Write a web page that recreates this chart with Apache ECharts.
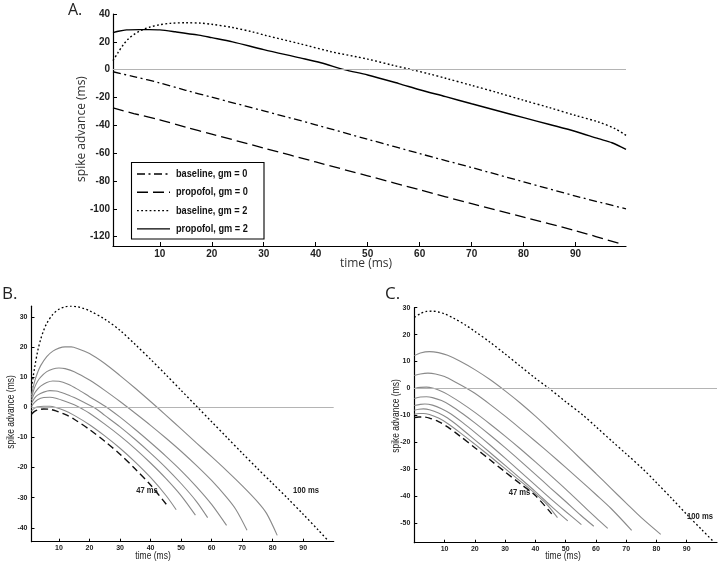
<!DOCTYPE html>
<html><head><meta charset="utf-8">
<script src="https://cdn.jsdelivr.net/npm/echarts@6/dist/echarts.min.js"></script>
<style>html,body{margin:0;padding:0;background:#fff}#c{width:720px;height:566px}</style>
</head><body><div id="c"></div>
<script>
// ---------- Panel A ----------
const aNames = ['baseline, gm = 0', 'propofol, gm = 0', 'baseline, gm = 2', 'propofol, gm = 2'];
const aBaseline0 = [[1,-1.5],[5,-5],[10,-9.5],[15,-14.8],[20,-19.8],[30,-29.6],[40,-39.6],[50,-50],[60,-60.3],[70,-70.3],[80,-80.6],[90,-90.8],[99.7,-100]];
const aPropofol0 = [[1,-27.5],[5,-31.5],[10,-36],[15,-41.3],[20,-46.3],[30,-56.3],[40,-66.3],[50,-76.3],[60,-86.3],[70,-96.3],[80,-106],[90,-115.7],[99,-125.5]];
const aBaseline2 = [[1,6.5],[2,12.5],[3,18],[4,22.3],[5,25.2],[6,27.5],[7,29.2],[8,30.5],[10,32.3],[12,33.3],[15,33.7],[18,33.4],[20,32.6],[24,30.3],[28,27],[30.5,24.5],[37,18.6],[43,12.9],[50,7.6],[55,3],[58.5,0],[62,-3.2],[65,-6.2],[70,-11.3],[75,-16.5],[80,-22],[85,-27.3],[90,-32.9],[94.4,-37.6],[97.6,-42.4],[99.7,-47.2]];
const aPropofol2 = [[1,26.6],[2,27.6],[3.6,28.6],[6,28.8],[8,28.8],[10,28.6],[13,27.2],[17.5,24.8],[20,23],[24,20],[30,14.4],[37,8.5],[41,5],[45.5,0],[50,-3.8],[56,-10],[60,-14.4],[65,-19.4],[70,-24.5],[75,-29.5],[80,-34.5],[85,-39.4],[90,-44.4],[94.4,-49.6],[97,-52.5],[99.7,-57.3]];
const aYTicks = [-120,-100,-80,-60,-40,-20,0,20,40];
const aXTicks = [10,20,30,40,50,60,70,80,90];

// ---------- Panel B ----------
const bDotted100 = [[1,6.5],[2,13],[3,18.5],[4,22.5],[5,25.5],[6,27.8],[8,30.8],[10,32.5],[12,33.3],[14,33.5],[16,33.3],[18,32.8],[20,32],[25,29.2],[30,25.5],[35,20.8],[40,15.9],[45,10.8],[50,5.6],[55,0.4],[60,-4.8],[65,-10],[70,-15.2],[75,-20.3],[80,-25.3],[85,-30.3],[90,-35.5],[95,-40.8],[98.5,-44.6]];
const bGray1 = [[1,4],[2,8.5],[3,11.5],[4,13.8],[6,16.8],[8,18.6],[10,19.6],[12,20],[14,20],[16,19.5],[20,17.8],[25,14.5],[30,10.5],[35,6.3],[40,1.9],[45,-2.6],[50,-7.2],[55,-11.8],[60,-16.4],[65,-21.1],[70,-26],[75,-31.3],[78,-35.2],[81.5,-42.5]];
const bGray2 = [[1,3.2],[2,6.5],[3,8.6],[4,10],[6,11.8],[8,12.7],[10,13],[12,12.8],[15,11.8],[20,9],[25,5.6],[30,1.9],[35,-2],[40,-6],[45,-10.2],[50,-14.6],[55,-19.3],[60,-24.3],[65,-30],[68,-34],[71.6,-40.8]];
const bGray3 = [[1,2.3],[2,4.6],[3,6],[4,7],[6,8.2],[8,8.7],[10,8.6],[13,7.6],[16,6],[20,3.5],[25,0.4],[30,-3.3],[35,-7.4],[40,-11.7],[45,-16.2],[50,-21],[55,-26.3],[60,-32.2],[64.9,-39.2]];
const bGray4 = [[1,1.3],[2,3],[3,4],[5,5],[7,5.5],[9,5.4],[12,4.5],[15,3.2],[18,1.7],[22,-0.4],[25,-2.7],[30,-6.5],[35,-10.7],[40,-15.2],[45,-20],[50,-25.3],[55,-31.2],[58.7,-36.6]];
const bGray5 = [[1,0.3],[2,1.6],[3,2.5],[5,3.2],[7,3.3],[9,3],[12,2],[15,0.8],[18,-0.8],[20,-2],[25,-5.6],[30,-9.5],[35,-13.8],[40,-18.5],[45,-23.6],[50,-29.3],[54.7,-35.8]];
const bGray6 = [[1,-1.2],[2,-0.3],[3,0.1],[5,0.3],[7,0.3],[9,-0.1],[12,-1.2],[15,-2.7],[20,-5.8],[25,-9.5],[30,-13.6],[35,-18.2],[40,-23.3],[45,-29.2],[48.4,-34]];
const bDashed47 = [[1,-2.3],[2,-1.4],[3,-0.9],[5,-0.6],[7,-0.7],[9,-1.2],[12,-2.4],[15,-4],[20,-7.4],[25,-11.3],[30,-15.6],[35,-20.5],[40,-25.8],[45.4,-32.5]];
const bYTicks = [-40,-30,-20,-10,0,10,20,30];
const bXTicks = [10,20,30,40,50,60,70,80,90];

// ---------- Panel C ----------
const cDotted100 = [[0,26.4],[2,27.8],[4,28.6],[6,28.7],[8,28.4],[10,27.7],[13,26.1],[17,23.5],[20,21.2],[25,17.2],[30,12.8],[35,8.3],[40,3.8],[44.5,0],[50,-4.9],[55.8,-10],[60,-14.2],[65.7,-20],[70,-24.3],[75.6,-30],[80,-35],[85,-40.8],[90,-46.8],[95,-52.5],[99.2,-57.3]];
const cGray1 = [[0,12.2],[2,13.2],[5,13.7],[8,13.3],[11,12.3],[15,10.2],[20,7],[25,3.3],[30,-0.9],[35,-5.4],[40,-10.3],[45,-15.5],[50,-20.8],[55,-26.2],[60,-31.6],[65,-37.1],[70,-42.6],[75,-48],[81.4,-54.2]];
const cGray2 = [[0,4.8],[2,5.4],[4.5,5.7],[7,5.4],[10,4.4],[13.5,2.4],[17.4,0],[20,-1.8],[25,-5.9],[30,-10.3],[35,-14.9],[40,-19.6],[45,-24.4],[50,-29.3],[55,-34.3],[60,-39.4],[65,-44.6],[71.8,-52.7]];
const cGray3 = [[0,0],[2,0.4],[4,0.5],[6,0.2],[8,-0.6],[11,-2.2],[15,-5],[20,-8.9],[25,-13.2],[30,-17.7],[35,-22.4],[40,-27.3],[45,-32.3],[50,-37.4],[55,-42.7],[60,-48],[63.9,-52]];
const cGray4 = [[0,-3.7],[2,-3.2],[4,-3.1],[6,-3.4],[9,-4.5],[12,-6.3],[16,-9.4],[20,-12.8],[25,-17.3],[30,-22],[35,-26.9],[40,-31.9],[45,-37],[50,-42],[55,-47.1],[59.3,-51.2]];
const cGray5 = [[0,-6.3],[2,-5.9],[3.5,-5.8],[6,-6.2],[9,-7.5],[12,-9.4],[16,-12.7],[20,-16.3],[25,-21],[30,-25.9],[35,-30.9],[40,-35.9],[45,-40.9],[50,-45.7],[55.2,-50.6]];
const cGray6 = [[0,-8.1],[1.5,-7.7],[3,-7.6],[5,-7.9],[8,-9.1],[11,-11],[15,-14.4],[20,-19.1],[25,-23.8],[30,-28.6],[35,-33.4],[40,-38.3],[45,-43.5],[50.7,-49.2]];
const cGray7 = [[0,-9.6],[1.5,-9.3],[3,-9.3],[5,-9.7],[8,-11],[11,-13],[15,-16.3],[20,-20.7],[25,-25.2],[30,-29.8],[35,-34.4],[40,-39.1],[44,-43.3],[47.3,-48]];
const cDashed47 = [[0,-10.8],[1.5,-10.6],[3,-10.6],[5,-11],[8,-12.3],[11,-14.3],[15,-17.6],[20,-22],[25,-26.5],[30,-31],[35,-35.4],[40,-39.8],[45.4,-46.6]];
const cYTicks = [-50,-40,-30,-20,-10,0,10,20,30];
const cXTicks = [10,20,30,40,50,60,70,80,90];

const TICKFONT = "'Liberation Sans',Arial,sans-serif";
const SANS = "'Open Sans','Noto Sans',sans-serif";

function xAx(gi, min, max, ticks, fs, tl) {
  return {type:'value', gridIndex:gi, min:min, max:max,
    axisLine:{show:true, onZero:false, lineStyle:{color:'#000', width:1.2}},
    axisTick:{show:true, inside:true, length:tl, customValues:ticks, lineStyle:{color:'#000'}},
    axisLabel:{show:true, customValues:ticks, margin:3, fontFamily:TICKFONT, fontSize:fs, fontWeight:'bold', color:'#222'},
    splitLine:{show:false}};
}
function yAx(gi, min, max, ticks, fs, tl, mg) {
  return {type:'value', gridIndex:gi, min:min, max:max,
    axisLine:{show:true, onZero:false, lineStyle:{color:'#000', width:1.2}},
    axisTick:{show:true, inside:true, length:tl, customValues:ticks, lineStyle:{color:'#000'}},
    axisLabel:{show:true, customValues:ticks, margin:mg, fontFamily:TICKFONT, fontSize:fs, fontWeight:'bold', color:'#222'},
    splitLine:{show:false}};
}
function ln(name, gi, data, color, width, type, z) {
  return {name:name, type:'line', xAxisIndex:gi, yAxisIndex:gi, data:data, showSymbol:false, symbol:'none',
    smooth:0.3, silent:true, z:z||2, animation:false, itemStyle:{color:color},
    lineStyle:{color:color, width:width, type:type}};
}
function zeroLine(gi) {
  return {name:'zero'+gi, type:'line', xAxisIndex:gi, yAxisIndex:gi, data:[], silent:true, symbol:'none',
    markLine:{silent:true, symbol:'none', animation:false, label:{show:false},
      lineStyle:{color:'#b4b4b4', width:1, type:'solid'}, data:[{yAxis:0}]}, z:1};
}

const DASHDOT = [8,3.5,2,3.5], LONGDASH = [11,5], DOT = [1.8,2.4], DASH47 = [7,4];
const GRAY = '#8a8a8a';
const aStyles = [DASHDOT, LONGDASH, DOT, null];

const series = [
  zeroLine(0),
  ln(aNames[0], 0, aBaseline0, '#000', 1.3, DASHDOT),
  ln(aNames[1], 0, aPropofol0, '#000', 1.3, LONGDASH),
  ln(aNames[2], 0, aBaseline2, '#000', 1.4, DOT),
  ln(aNames[3], 0, aPropofol2, '#000', 1.4, 'solid'),
  zeroLine(1),
  ln('B 100 ms', 1, bDotted100, '#000', 1.3, DOT, 3),
  ln('B g1', 1, bGray1, GRAY, 1.1, 'solid'),
  ln('B g2', 1, bGray2, GRAY, 1.1, 'solid'),
  ln('B g3', 1, bGray3, GRAY, 1.1, 'solid'),
  ln('B g4', 1, bGray4, GRAY, 1.1, 'solid'),
  ln('B g5', 1, bGray5, GRAY, 1.1, 'solid'),
  ln('B g6', 1, bGray6, GRAY, 1.1, 'solid'),
  ln('B 47 ms', 1, bDashed47, '#111', 1.4, DASH47, 3),
  zeroLine(2),
  ln('C 100 ms', 2, cDotted100, '#000', 1.3, DOT, 3),
  ln('C g1', 2, cGray1, GRAY, 1.1, 'solid'),
  ln('C g2', 2, cGray2, GRAY, 1.1, 'solid'),
  ln('C g3', 2, cGray3, GRAY, 1.1, 'solid'),
  ln('C g4', 2, cGray4, GRAY, 1.1, 'solid'),
  ln('C g5', 2, cGray5, GRAY, 1.1, 'solid'),
  ln('C g6', 2, cGray6, GRAY, 1.1, 'solid'),
  ln('C g7', 2, cGray7, GRAY, 1.1, 'solid'),
  ln('C 47 ms', 2, cDashed47, '#111', 1.4, DASH47, 3)
];

function txt(text, x, y, fs, font, opts) {
  opts = opts || {};
  return {type:'text', x:x, y:y, rotation:opts.rot||0, scaleX:opts.sx||1, silent:true, z:100,
    style:{text:text, fontSize:fs, fontFamily:font, fill:opts.fill||'#222',
      textAlign:opts.align||'center', textVerticalAlign:'middle', fontWeight:opts.weight||'normal'}};
}

// manual legend (box, line samples, labels)
const legendGraphics = [{type:'rect', silent:true, z:90,
  shape:{x:131.5, y:162.5, width:132.5, height:76.5},
  style:{fill:'#fff', stroke:'#000', lineWidth:1.1}}];
aNames.forEach(function (n, i) {
  const yy = 174 + i * 18.3;
  legendGraphics.push({type:'line', silent:true, z:95,
    shape:{x1:137, y1:yy, x2:170, y2:yy},
    style:{stroke:'#000', lineWidth:1.4, lineDash:aStyles[i] || null}});
  legendGraphics.push(txt(n, 176, yy, 11.5, TICKFONT, {align:'left', sx:0.8, fill:'#111', weight:'bold'}));
});

const chart = echarts.init(document.getElementById('c'), null, {renderer:'canvas'});
chart.setOption({
  animation:false,
  backgroundColor:'#fff',
  grid:[
    {left:113, top:14, right:94, bottom:320},
    {left:31.5, top:306.2, right:386.3, bottom:24.3},
    {left:414.3, top:307.7, right:3, bottom:23.3}
  ],
  xAxis:[
    xAx(0, 1, 99.7, aXTicks, 10, 4),
    xAx(1, 1, 100, bXTicks, 7, 3),
    xAx(2, 0, 100, cXTicks, 7, 3)
  ],
  yAxis:[
    yAx(0, -126.7, 40, aYTicks, 10, 4, 3),
    yAx(1, -44.6, 33.5, bYTicks, 7, 3, 4),
    yAx(2, -57.3, 30, cYTicks, 7, 3, 4)
  ],
  series:series,
  graphic:legendGraphics.concat([
    txt('A.', 68, 10, 16, SANS, {align:'left'}),
    txt('B.', 2, 294, 17, SANS, {align:'left'}),
    txt('C.', 385, 294, 17, SANS, {align:'left'}),
    txt('spike advance (ms)', 82, 129, 12, SANS, {rot:Math.PI/2, fill:'#333'}),
    txt('time (ms)', 366, 264, 12, SANS, {fill:'#333'}),
    txt('spike advance (ms)', 11.7, 412, 10, TICKFONT, {rot:Math.PI/2, sx:0.85}),
    txt('time (ms)', 153, 556, 10, TICKFONT, {sx:0.85}),
    txt('spike advance (ms)', 396.7, 416, 10, TICKFONT, {rot:Math.PI/2, sx:0.85}),
    txt('time (ms)', 563, 556, 10, TICKFONT, {sx:0.85}),
    txt('47 ms', 147, 491, 9, TICKFONT, {sx:0.85, weight:'bold'}),
    txt('100 ms', 306, 491, 9, TICKFONT, {sx:0.85, weight:'bold'}),
    txt('47 ms', 519.5, 492.7, 9, TICKFONT, {sx:0.85, weight:'bold'}),
    txt('100 ms', 700, 517, 9, TICKFONT, {sx:0.85, weight:'bold'})
  ])
});
</script></body></html>
